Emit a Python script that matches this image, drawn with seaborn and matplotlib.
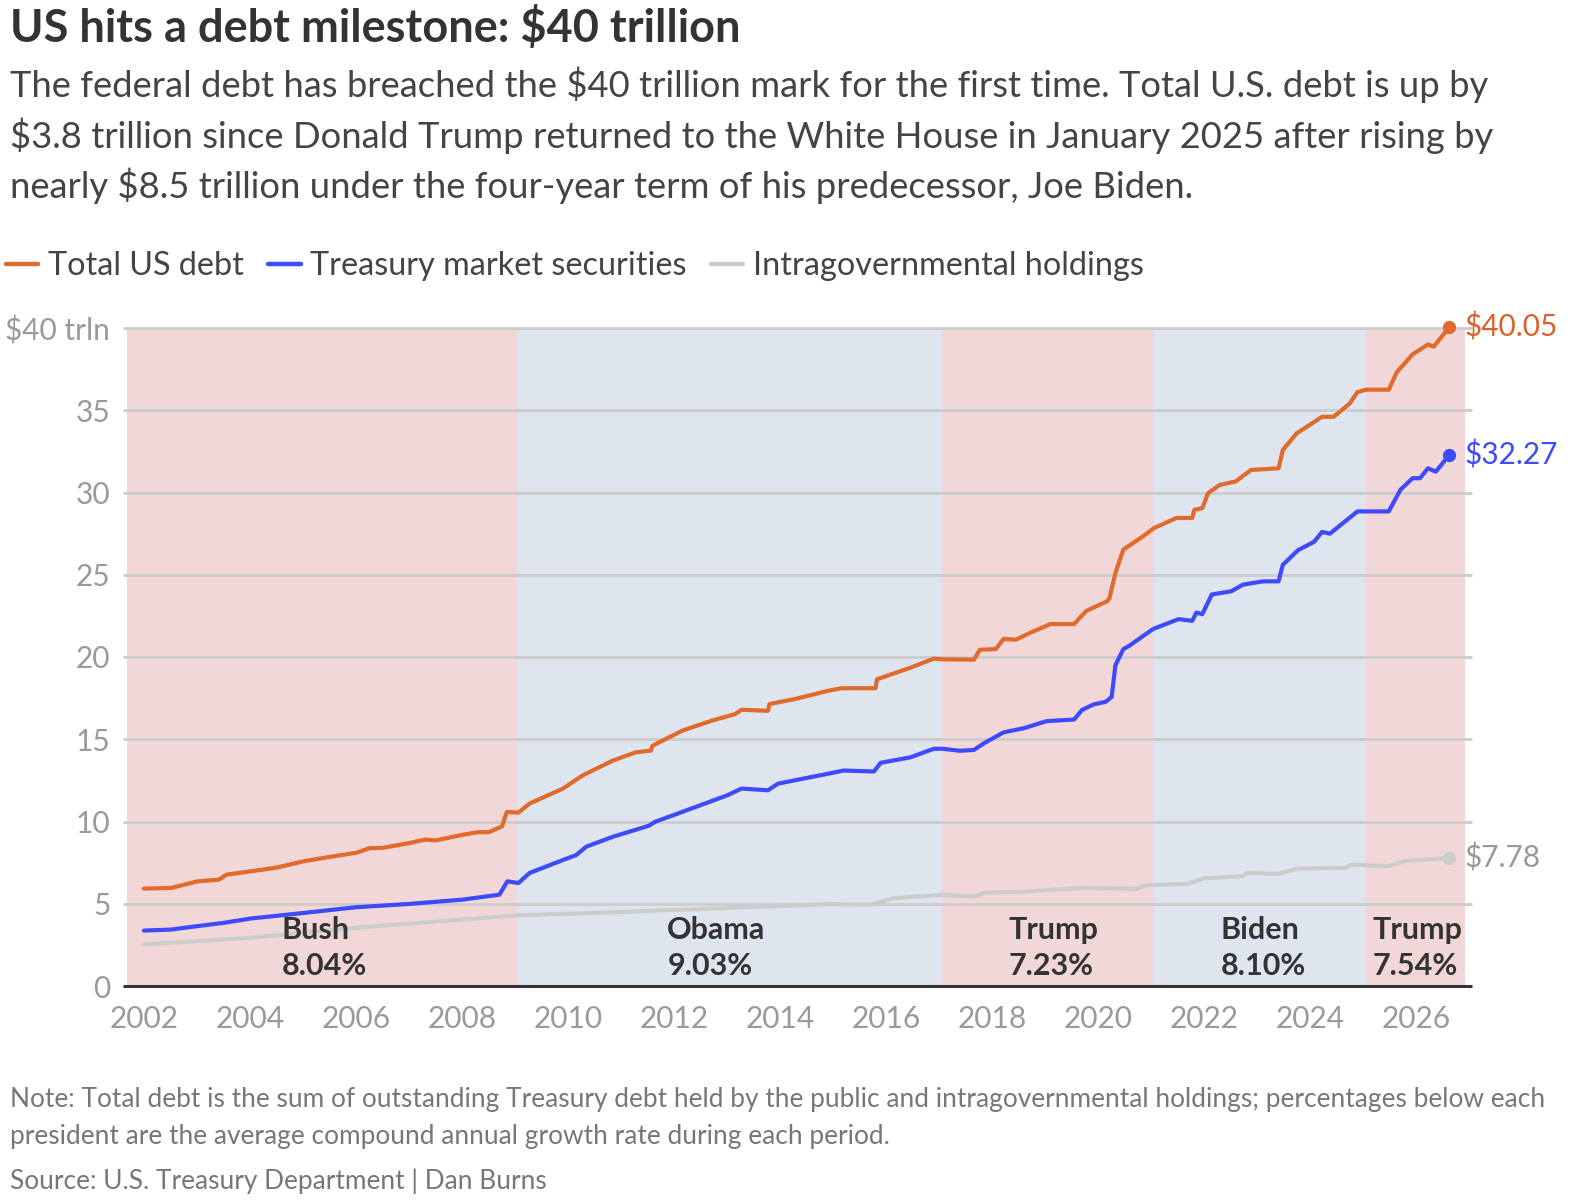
import numpy as np
import pandas as pd
import matplotlib
matplotlib.use("Agg")
import matplotlib.pyplot as plt
import matplotlib.transforms as mtransforms
from matplotlib.lines import Line2D
import seaborn as sns

# ---------------- data (trillions of dollars) ----------------
total_x = [2001.99, 2002.5, 2003.0, 2003.4, 2003.55, 2004.0, 2004.5, 2005.0, 2005.5, 2006.0,
           2006.25, 2006.5, 2007.0, 2007.3, 2007.5, 2008.0, 2008.3, 2008.5, 2008.75, 2008.84,
           2009.06, 2009.27, 2009.9, 2010.27, 2010.84, 2011.27, 2011.56, 2011.59, 2012.15, 2012.71,
           2013.15, 2013.27, 2013.77, 2013.8, 2014.27, 2014.9, 2015.15, 2015.8, 2015.83, 2016.46,
           2016.9, 2017.06, 2017.66, 2017.77, 2018.07, 2018.22, 2018.45, 2018.74, 2019.1, 2019.55,
           2019.78, 2020.18, 2020.22, 2020.33, 2020.48, 2020.81, 2021.06, 2021.48, 2021.78, 2021.82,
           2021.97, 2022.08, 2022.3, 2022.6, 2022.89, 2023.41, 2023.49, 2023.75, 2024.23, 2024.45,
           2024.75, 2024.9, 2025.06, 2025.49, 2025.64, 2025.94, 2026.23, 2026.34, 2026.53, 2026.63]
total_y = [5.92, 5.96, 6.36, 6.46, 6.77, 6.97, 7.2, 7.58, 7.85, 8.1,
           8.38, 8.4, 8.69, 8.9, 8.85, 9.19, 9.35, 9.35, 9.7, 10.58,
           10.54, 11.09, 12.0, 12.8, 13.7, 14.2, 14.31, 14.6, 15.52, 16.13,
           16.53, 16.79, 16.73, 17.14, 17.44, 17.94, 18.1, 18.1, 18.65, 19.35,
           19.9, 19.86, 19.84, 20.44, 20.48, 21.1, 21.05, 21.5, 22.0, 22.0,
           22.8, 23.4, 23.6, 25.1, 26.53, 27.24, 27.84, 28.45, 28.45, 28.95,
           29.05, 29.96, 30.46, 30.67, 31.37, 31.47, 32.58, 33.59, 34.6, 34.6,
           35.4, 36.1, 36.25, 36.25, 37.3, 38.4, 39.0, 38.87, 39.63, 40.05]

market_x = [2001.99, 2002.5, 2003.0, 2003.5, 2004.0, 2005.0, 2006.0, 2007.0, 2008.0, 2008.7,
            2008.85, 2009.06, 2009.27, 2009.9, 2010.15, 2010.34, 2010.84, 2011.52, 2011.64, 2012.15,
            2013.0, 2013.27, 2013.77, 2013.96, 2014.27, 2014.9, 2015.2, 2015.77, 2015.9, 2016.46,
            2016.9, 2017.06, 2017.4, 2017.66, 2017.85, 2018.22, 2018.6, 2019.03, 2019.55, 2019.7,
            2019.92, 2020.15, 2020.26, 2020.33, 2020.48, 2020.59, 2021.04, 2021.52, 2021.78, 2021.86,
            2021.97, 2022.15, 2022.52, 2022.74, 2023.12, 2023.41, 2023.49, 2023.78, 2024.08, 2024.23,
            2024.38, 2024.9, 2025.49, 2025.71, 2025.94, 2026.08, 2026.23, 2026.38, 2026.63]
market_y = [3.37, 3.43, 3.64, 3.84, 4.10, 4.44, 4.79, 4.99, 5.25, 5.55,
            6.36, 6.26, 6.87, 7.66, 7.96, 8.47, 9.07, 9.74, 9.98, 10.58,
            11.59, 12.0, 11.9, 12.3, 12.5, 12.9, 13.1, 13.04, 13.57, 13.9,
            14.42, 14.42, 14.3, 14.35, 14.76, 15.42, 15.67, 16.1, 16.2, 16.78,
            17.12, 17.28, 17.58, 19.5, 20.48, 20.68, 21.7, 22.3, 22.2, 22.7,
            22.6, 23.8, 24.0, 24.4, 24.6, 24.6, 25.6, 26.5, 27.0, 27.6,
            27.5, 28.85, 28.85, 30.16, 30.87, 30.87, 31.47, 31.27, 32.27]

intra_x = [2001.99, 2004.0, 2006.0, 2008.0, 2009.06, 2010.5, 2013.0, 2014.9, 2015.7, 2016.15,
           2017.06, 2017.66, 2017.85, 2018.6, 2019.7, 2020.74, 2020.89, 2021.7, 2022.0, 2022.74,
           2022.82, 2023.41, 2023.78, 2024.67, 2024.78, 2025.49, 2025.79, 2026.63]
intra_y = [2.53, 2.93, 3.54, 4.04, 4.30, 4.44, 4.74, 4.98, 4.94, 5.34,
           5.54, 5.44, 5.67, 5.73, 5.97, 5.9, 6.13, 6.21, 6.54, 6.68,
           6.88, 6.82, 7.14, 7.18, 7.38, 7.28, 7.59, 7.78]

series_names = ["Total US debt", "Treasury market securities", "Intragovernmental holdings"]
end_labels = ["$40.05", "$32.27", "$7.78"]

presidents = ["Bush", "Obama", "Trump", "Biden", "Trump"]
growth = ["8.04%", "9.03%", "7.23%", "8.10%", "7.54%"]
term_start = [2001.67, 2009.06, 2017.06, 2021.06, 2025.06]
term_end = [2009.06, 2017.06, 2021.06, 2025.06, 2026.93]
party = ["R", "D", "R", "D", "R"]
label_x = [2004.59, 2011.87, 2018.31, 2022.32, 2025.18]

x_ticks = list(range(2002, 2027, 2))
y_ticks = [0, 5, 10, 15, 20, 25, 30, 35, 40]
y_ticklabels = ["0", "5", "10", "15", "20", "25", "30", "35", "$40 trln"]

# ---------------- styling ----------------
ORANGE = "#E06B2C"
BLUE = "#3D4BFA"
GRAY = "#CCCCCC"
DARK = "#333333"
TICKC = "#9A9A9A"
SHADE = {"R": "#F2D7D8", "D": "#DFE5EF"}
palette = {series_names[0]: ORANGE, series_names[1]: BLUE, series_names[2]: GRAY}
label_colors = ["#D9622B", BLUE, "#999999"]

sns.set_theme(style="white")
FONT = ["Lato", "DejaVu Sans"]
plt.rcParams["font.family"] = FONT

df = pd.concat([
    pd.DataFrame({"year": total_x, "value": total_y, "series": series_names[0]}),
    pd.DataFrame({"year": market_x, "value": market_y, "series": series_names[1]}),
    pd.DataFrame({"year": intra_x, "value": intra_y, "series": series_names[2]}),
], ignore_index=True)

W, H = 1577, 1204
fig = plt.figure(figsize=(W / 100, H / 100), dpi=100)
ax = fig.add_axes([127 / W, 1 - 986 / H, (1465 - 127) / W, (986 - 328) / H])

# presidential shading
for s, e, p in zip(term_start, term_end, party):
    ax.axvspan(s, e, color=SHADE[p], lw=0, zorder=0)

# gridlines (extend slightly beyond plot area)
trans = mtransforms.blended_transform_factory(ax.transAxes, ax.transData)
for yv in y_ticks[1:]:
    ax.plot([-0.003, 1.005], [yv, yv], transform=trans, color="#CCCCCC", lw=2.0,
            zorder=1, clip_on=False, solid_capstyle="butt")
ax.plot([-0.003, 1.005], [0, 0], transform=trans, color=DARK, lw=2.2,
        zorder=5, clip_on=False, solid_capstyle="butt")

sns.lineplot(data=df, x="year", y="value", hue="series", hue_order=series_names[::-1],
             palette=palette, sort=False, estimator=None, lw=3.0, ax=ax, zorder=3,
             legend=False)

# end dots and value labels
ends = [(total_x[-1], total_y[-1]), (market_x[-1], market_y[-1]), (intra_x[-1], intra_y[-1])]
for (ex, ey), c, lab, lc in zip(ends, [ORANGE, BLUE, GRAY], end_labels, label_colors):
    ax.plot([ex], [ey], "o", color=c, ms=8.5, zorder=6, clip_on=False)
    ax.annotate(lab, xy=(ex, ey), xytext=(11, 0), textcoords="offset points",
                color=lc, fontsize=21.5, va="center", ha="left",
                annotation_clip=False)

# president labels
for name, g, lx in zip(presidents, growth, label_x):
    ax.text(lx, 3.4, name, fontsize=22, fontweight="bold", color=DARK,
            ha="left", va="center", zorder=7)
    ax.text(lx, 1.2, g, fontsize=22, fontweight="bold", color=DARK,
            ha="left", va="center", zorder=7)

ax.set_xlim(2001.67, 2026.93)
ax.set_ylim(0, 40)
ax.set_xticks(x_ticks)
ax.set_xticklabels([str(t) for t in x_ticks])
ax.set_yticks(y_ticks)
ax.set_yticklabels(y_ticklabels)
ax.tick_params(axis="both", length=0, labelsize=21.5, labelcolor=TICKC)
ax.tick_params(axis="y", pad=12)
ax.tick_params(axis="x", pad=14)
ax.set_xlabel("")
ax.set_ylabel("")
for sp in ax.spines.values():
    sp.set_visible(False)
ax.grid(False)
ax.set_facecolor("white")

# legend
handles = [Line2D([0], [0], color=palette[n], lw=3.2) for n in series_names]
fig.legend(handles, series_names, loc="upper left", bbox_to_anchor=(6 / W, 1 - 251 / H),
           ncol=3, frameon=False, fontsize=23.3, handlelength=1.0, handletextpad=0.3,
           columnspacing=0.75, borderpad=0, borderaxespad=0, labelcolor="#444444")

# titles
fig.text(10 / W, 1 - 42 / H, "US hits a debt milestone: $40 trillion", fontsize=32.5,
         fontweight="bold", color=DARK, ha="left", va="baseline")
sub = ["The federal debt has breached the $40 trillion mark for the first time. Total U.S. debt is up by",
       "$3.8 trillion since Donald Trump returned to the White House in January 2025 after rising by",
       "nearly $8.5 trillion under the four-year term of his predecessor, Joe Biden."]
for i, line in enumerate(sub):
    fig.text(10 / W, 1 - (97 + 50.5 * i) / H, line, fontsize=26.2,
             color="#444444", ha="left", va="baseline")

notes = ["Note: Total debt is the sum of outstanding Treasury debt held by the public and intragovernmental holdings; percentages below each",
         "president are the average compound annual growth rate during each period."]
for i, line in enumerate(notes):
    fig.text(10 / W, 1 - (1107 + 37 * i) / H, line, fontsize=18.9,
             color="#777777", ha="left", va="baseline")
fig.text(10 / W, 1 - 1189 / H, "Source: U.S. Treasury Department | Dan Burns", fontsize=18.9,
         color="#777777", ha="left", va="baseline")

fig.savefig("out.png", dpi=100)
